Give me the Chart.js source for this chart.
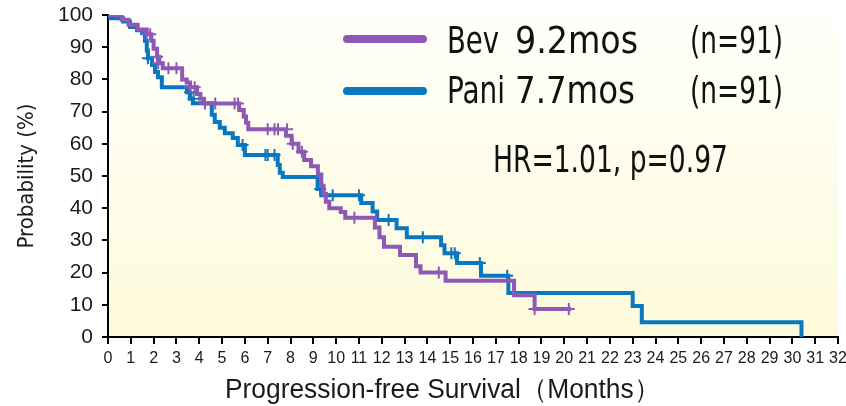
<!DOCTYPE html>
<html>
<head>
<meta charset="utf-8">
<script src="https://cdn.jsdelivr.net/npm/chart.js@4/dist/chart.umd.min.js"></script>
<style>
  html, body { margin: 0; padding: 0; background: #fff; }
</style>
</head>
<body>
<canvas id="kmChart" width="846" height="406"></canvas>
<script>
// Kaplan-Meier steps (months, % progression-free)
const bevTimes = [0, 0.6, 0.9, 1.3, 1.7, 1.9, 2.0, 2.15, 2.25, 2.4, 3.25, 3.45, 3.6, 3.9, 4.05, 4.2, 5.75, 5.95, 6.05, 6.15, 7.8, 8.05, 8.35, 8.6, 8.9, 9.2, 9.35, 9.45, 9.55, 9.7, 10.2, 10.4, 11.7, 11.9, 12.1, 12.8, 13.5, 13.7, 14.8, 17.8, 18.7, 20.3];
const bevSurv = [100, 98.5, 97, 95.5, 94, 92, 89.5, 87, 85, 83.5, 80, 79, 77.6, 75.5, 74, 72.5, 70.5, 68.5, 66.5, 64.5, 62.5, 60, 57.5, 55, 53, 50.5, 47, 44.5, 42, 40, 38.8, 37, 34, 31, 28, 25.5, 22, 20, 17.5, 13, 8.7, 8.7];
const bevCensorTimes = [1.7, 1.85, 2.15, 2.2, 2.65, 3.0, 3.6, 3.8, 4.25, 4.7, 5.55, 5.7, 7.0, 7.3, 7.45, 7.85, 8.1, 8.5, 10.8, 14.5, 18.7, 20.2];
const bevCensorSurv = [94, 94, 87, 85, 83.5, 83.5, 77.6, 77.6, 72.5, 72.5, 72.5, 72.5, 64.5, 64.5, 64.5, 64.5, 60, 57.5, 37, 20, 8.7, 8.7];

const paniTimes = [0, 0.1, 0.66, 0.96, 1.27, 1.49, 1.62, 1.7, 1.75, 1.93, 2.06, 2.19, 2.36, 3.46, 3.59, 3.72, 4.55, 4.68, 4.9, 5.12, 5.47, 5.69, 6.0, 7.44, 7.53, 7.66, 9.19, 9.35, 11.1, 11.6, 11.8, 12.65, 13.1, 14.6, 14.75, 15.3, 16.35, 17.55, 23.0, 23.4, 30.4];
const paniSurv = [100, 99, 98, 96.3, 95.3, 94.4, 92, 89, 86.6, 84.5, 82.3, 80.7, 77.6, 76, 74, 72.6, 69, 66.8, 65, 63.3, 61.8, 59.6, 56.5, 53.4, 51, 49.7, 46, 44, 41.6, 39, 36.3, 33.8, 31, 28.5, 26, 23, 19, 13.7, 9.6, 4.6, 0];
const paniCensorTimes = [1.75, 3.6, 3.75, 5.9, 6.9, 7.0, 7.3, 9.3, 9.85, 11.0, 12.3, 13.8, 15.05, 15.2, 16.3, 17.5];
const paniCensorSurv = [86.6, 76, 74, 59.6, 56.5, 56.5, 56.5, 46, 44, 44, 36.3, 31, 26, 26, 23, 19];

const xTickValues = [0, 1, 2, 3, 4, 5, 6, 7, 8, 9, 10, 11, 12, 13, 14, 15, 16, 17, 18, 19, 20, 21, 22, 23, 24, 25, 26, 27, 28, 29, 30, 31, 32];
const yTickValues = [0, 10, 20, 30, 40, 50, 60, 70, 80, 90, 100];

const seriesNames = ["Bev", "Pani"];
const seriesMedians = ["9.2mos", "7.7mos"];
const seriesSizes = ["(n=91)", "(n=91)"];
const statsLabel = "HR=1.01, p=0.97";
const xTitle = "Progression-free Survival（Months）";

const BEV = "#8e58b6";
const PANI = "#0a78c0";
const seriesColors = [BEV, PANI];

const toPoints = (xs, ys) => xs.map((x, i) => ({ x: x, y: ys[i] }));

const plotBackground = {
  id: "plotBackground",
  beforeDraw(chart) {
    const { ctx, chartArea: a } = chart;
    const g = ctx.createLinearGradient(0, a.top, 0, a.bottom);
    g.addColorStop(0, "#fffffa");
    g.addColorStop(1, "#fdfadb");
    ctx.save();
    ctx.fillStyle = g;
    ctx.fillRect(a.left, a.top, a.right - a.left, a.bottom - a.top);
    ctx.restore();
  },
};

// legend block and HR text sit inside the plot, top right
// the original uses a condensed face, so squeeze each piece to its width
const keyBox = {
  id: "keyBox",
  afterDraw(chart) {
    const ctx = chart.ctx;
    ctx.save();
    ctx.font = '38px "DejaVu Sans Condensed", "DejaVu Sans", sans-serif';
    ctx.fillStyle = "#111";
    ctx.textBaseline = "alphabetic";
    const rows = [{ text: 53, line: 39, nameW: 52, medW: 123 }, { text: 103, line: 91, nameW: 58, medW: 120 }];
    seriesNames.forEach((name, i) => {
      const r = rows[i];
      ctx.strokeStyle = seriesColors[i];
      ctx.lineWidth = 8;
      ctx.lineCap = "round";
      ctx.beginPath();
      ctx.moveTo(347, r.line);
      ctx.lineTo(423, r.line);
      ctx.stroke();
      ctx.fillText(name, 447, r.text, r.nameW);
      ctx.fillText(seriesMedians[i], 515, r.text, r.medW);
      ctx.fillText(seriesSizes[i], 690, r.text, 93);
    });
    ctx.fillText(statsLabel, 493, 172, 235);

    // x axis title sits a little left of the axis centre in the original
    ctx.font = '27px "Liberation Sans", Arial, sans-serif';
    ctx.fillStyle = "#1a1a1a";
    ctx.fillText(xTitle, 225, 398, 435);
    ctx.restore();
  },
};

new Chart(document.getElementById("kmChart"), {
  type: "line",
  data: {
    datasets: [
      {
        label: "Bev",
        data: toPoints(bevTimes, bevSurv),
        borderColor: BEV,
        borderWidth: 4,
        stepped: "before",
        pointRadius: 0,
        fill: false,
        order: 1,
      },
      {
        label: "Bev censored",
        type: "scatter",
        data: toPoints(bevCensorTimes, bevCensorSurv),
        pointStyle: "cross",
        pointRadius: 6,
        borderColor: BEV,
        borderWidth: 2,
        order: 0,
      },
      {
        label: "Pani",
        data: toPoints(paniTimes, paniSurv),
        borderColor: PANI,
        borderWidth: 4,
        stepped: "before",
        pointRadius: 0,
        fill: false,
        order: 3,
      },
      {
        label: "Pani censored",
        type: "scatter",
        data: toPoints(paniCensorTimes, paniCensorSurv),
        pointStyle: "cross",
        pointRadius: 6,
        borderColor: PANI,
        borderWidth: 2,
        order: 2,
      },
    ],
  },
  options: {
    responsive: false,
    animation: false,
    devicePixelRatio: 1,
    layout: { padding: { top: 15, right: 7, left: 0, bottom: 0 } },
    plugins: { legend: { display: false }, tooltip: { enabled: false } },
    scales: {
      x: {
        type: "linear",
        min: 0,
        max: 32,
        afterBuildTicks: (s) => { s.ticks = xTickValues.map((v) => ({ value: v })); },
        afterFit: (s) => { s.height = 69; s.paddingLeft = 0; s.paddingRight = 0; },
        ticks: {
          autoSkip: false,
          maxRotation: 0,
          padding: 5,
          color: "#1a1a1a",
          font: { family: '"Liberation Sans", Arial, sans-serif', size: 16 },
        },
        grid: { drawOnChartArea: false, tickLength: 7, color: "#000", lineWidth: 2 },
        border: { color: "#000", width: 2 },
      },
      y: {
        min: 0,
        max: 100,
        afterBuildTicks: (s) => { s.ticks = yTickValues.map((v) => ({ value: v })); },
        afterFit: (s) => { s.width = 108; s.paddingTop = 0; s.paddingBottom = 0; },
        ticks: {
          padding: 9,
          color: "#1a1a1a",
          font: { family: '"Liberation Sans", Arial, sans-serif', size: 21 },
        },
        grid: { drawOnChartArea: false, tickLength: 6, color: "#000", lineWidth: 2 },
        border: { color: "#000", width: 2 },
        title: {
          display: true,
          text: "Probability (%)",
          color: "#1a1a1a",
          font: { family: '"DejaVu Sans Condensed", "DejaVu Sans", sans-serif', size: 22 },
          padding: { top: 14, bottom: 0 },
        },
      },
    },
  },
  plugins: [plotBackground, keyBox],
});
</script>
</body>
</html>
